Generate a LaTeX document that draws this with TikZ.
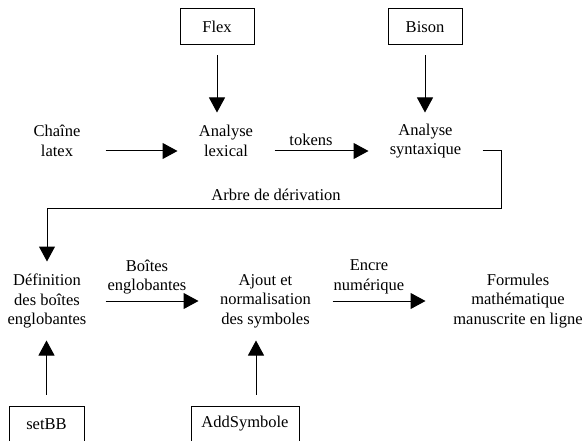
\documentclass[tikz,border=0pt]{standalone}
\usepackage{fontspec}
\setmainfont{Liberation Serif}
\usetikzlibrary{arrows.meta}

\tikzset{
  stage/.style={align=center, inner sep=0pt, font=\fontsize{16.5}{19.5}\selectfont},
  tool/.style={draw, inner sep=0pt, minimum height=36pt, font=\fontsize{16.5}{19.5}\selectfont},
  flow/.style={-{Triangle[length=15pt,width=16pt]}}
}

\begin{document}
\begin{tikzpicture}[x=1pt, y=-1pt, draw=black, line width=1pt]
\useasboundingbox (0,0) rectangle (584,441);

\node[tool, minimum width=74pt] (flex) at (217,27) {Flex};
\node[tool, minimum width=74pt] (bison) at (425,27) {Bison};

\node[stage, minimum width=96pt, minimum height=56pt] (chaine) at (57,141) {Chaîne\\latex};
\node[stage, minimum width=96pt, minimum height=56pt] (lexical) at (226,141) {Analyse\\lexical};
\node[stage, minimum width=113pt, minimum height=56pt] (syntax) at (425.5,141) {Analyse\\syntaxique};
\node[stage] (tokens) at (311,140) {tokens};
\node[stage] (arbre) at (276,195) {Arbre de dérivation};% sits over the return line

\node[stage, minimum width=116pt, minimum height=78pt] (definition) at (47,301) {Définition\\des boîtes\\englobantes};
\node[stage, minimum width=133pt, minimum height=78pt] (ajout) at (265.5,301) {Ajout et\\normalisation\\des symboles};
\node[stage, minimum width=184pt, minimum height=78pt] (formules) at (518,301) {Formules\\mathématique\\manuscrite en ligne};
\node[stage] (boites) at (147,277) {Boîtes\\englobantes};
\node[stage] (encre) at (369,277) {Encre\\numérique};

\node[tool, minimum width=75pt] (setbb) at (46.5,424) {setBB};
\node[tool, minimum width=108pt] (addsym) at (245,424) {AddSymbole};

\draw[flow, shorten <=10pt] (flex.south) -- (flex.south |- lexical.north);
\draw[flow, shorten <=10pt] (bison.south) -- (bison.south |- syntax.north);
\draw[flow] ([yshift=-10pt]chaine.east) -- ([yshift=-10pt]lexical.west);
\draw[flow] ([yshift=-10pt]lexical.east) -- ([yshift=-10pt]syntax.west);

\coordinate (turn) at (501,208);
\draw[flow] ([yshift=-10pt]syntax.east) -| (turn) -- (turn -| definition.north) -- (definition.north);

\draw[flow] (definition.east) -- (ajout.west);
\draw[flow] (ajout.east) -- (formules.west);
\draw[flow, shorten <=11pt] (setbb.north) -- (setbb.north |- definition.south);
\draw[flow, shorten <=11pt] ([xshift=11pt]addsym.north) -- ([xshift=11pt]addsym.north |- ajout.south);
\end{tikzpicture}
\end{document}
